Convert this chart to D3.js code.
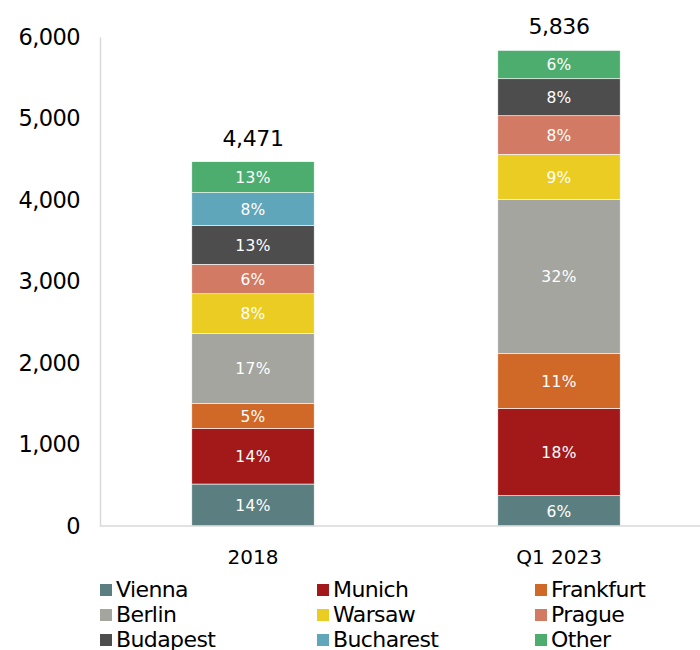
<!DOCTYPE html>
<html>
<head>
<meta charset="utf-8">
<script src="https://cdn.jsdelivr.net/npm/d3@7"></script>
<style>
  body { margin: 0; background: #fff; }
  svg text { font-family: "DejaVu Sans", Verdana, sans-serif; }
</style>
</head>
<body>
<div id="chart"></div>
<script>
var periods = ["2018", "Q1 2023"];
var cities = ["Vienna", "Munich", "Frankfurt", "Berlin", "Warsaw", "Prague", "Budapest", "Bucharest", "Other"];
var colors = ["#5b7f80", "#a31818", "#d06828", "#a5a5a0", "#ebcc22", "#d27a64", "#4d4d4d", "#5fa6ba", "#4dad6e"];
// segment values
var values2018 = [515, 684, 302, 863, 486, 361, 474, 405, 380];
var values2023 = [372, 1072, 670, 1895, 552, 473, 454, 0, 348];
// shares printed on the bars
var shares2018 = ["14%", "14%", "5%", "17%", "8%", "6%", "13%", "8%", "13%"];
var shares2023 = ["6%", "18%", "11%", "32%", "9%", "8%", "8%", "", "6%"];
var totals = [4471, 5836];
var yTicks = [0, 1000, 2000, 3000, 4000, 5000, 6000];

var width = 700, height = 650;
var margin = { top: 37, right: 0, bottom: 124, left: 100 };

var svg = d3.select("#chart").append("svg")
    .attr("width", width)
    .attr("height", height);

var xScale = d3.scaleBand()
    .domain(periods)
    .range([margin.left, 712])
    .paddingInner(0.6)
    .paddingOuter(0.3);

var yScale = d3.scaleLinear()
    .domain([0, 6000])
    .range([height - margin.bottom, margin.top]);

var rows = periods.map(function (p, i) {
    var row = { period: p };
    var vals = i == 0 ? values2018 : values2023;
    cities.forEach(function (c, j) { row[c] = vals[j]; });
    return row;
});
var shares = [shares2018, shares2023];

var stack = d3.stack().keys(cities)(rows);

// y axis
svg.append("g")
    .attr("transform", "translate(" + margin.left + ",0)")
    .call(d3.axisLeft(yScale).tickValues(yTicks).tickSize(0).tickPadding(20).tickFormat(d3.format(",")))
    .call(function (g) {
        g.select(".domain").attr("stroke", "#d9d9d9").attr("stroke-width", 1.5);
        g.selectAll("text").attr("font-size", 22.5).attr("fill", "#000")
            .attr("letter-spacing", "-0.6px")
            .style("font-family", "DejaVu Sans, Verdana, sans-serif");
    });

// bars
stack.forEach(function (layer, j) {
    svg.append("g")
        .selectAll("rect")
        .data(layer)
        .enter().append("rect")
        .attr("x", function (d) { return xScale(d.data.period); })
        .attr("y", function (d) { return yScale(d[1]); })
        .attr("width", xScale.bandwidth())
        .attr("height", function (d) { return yScale(d[0]) - yScale(d[1]); })
        .attr("fill", colors[j])
        .attr("stroke", "#fff")
        .attr("stroke-width", 0.6);

    svg.append("g")
        .selectAll("text")
        .data(layer)
        .enter().append("text")
        .attr("x", function (d) { return xScale(d.data.period) + xScale.bandwidth() / 2; })
        .attr("y", function (d) { return (yScale(d[0]) + yScale(d[1])) / 2; })
        .attr("dy", "0.38em")
        .attr("text-anchor", "middle")
        .attr("font-size", 15.5)
        .attr("letter-spacing", "0.3px")
        .attr("fill", "#fff")
        .text(function (d, i) { return shares[i][j]; });
});

// x axis
svg.append("g")
    .attr("transform", "translate(0," + yScale(0) + ")")
    .call(d3.axisBottom(xScale).tickSize(0).tickPadding(24))
    .call(function (g) {
        g.select(".domain").attr("stroke", "#d9d9d9").attr("stroke-width", 1.5)
            .attr("d", "M" + margin.left + ",0H" + width);
        g.selectAll("text").attr("font-size", 20).attr("fill", "#000")
            .style("font-family", "DejaVu Sans, Verdana, sans-serif");
    });

// totals
svg.selectAll(".total")
    .data(periods)
    .enter().append("text")
    .attr("class", "total")
    .attr("x", function (d) { return xScale(d) + xScale.bandwidth() / 2; })
    .attr("y", function (d, i) { return yScale(totals[i]) - 16; })
    .attr("text-anchor", "middle")
    .attr("font-size", 22)
    .attr("letter-spacing", "-0.4px")
    .attr("fill", "#000")
    .text(function (d, i) { return d3.format(",")(totals[i]); });

// legend
var legendX = [100, 317, 535];
var legendY = [597, 622, 647];
var legend = svg.selectAll(".legend")
    .data(cities)
    .enter().append("g")
    .attr("class", "legend")
    .attr("transform", function (d, i) {
        return "translate(" + legendX[i % 3] + "," + legendY[Math.floor(i / 3)] + ")";
    });
legend.append("rect")
    .attr("x", 0)
    .attr("y", -13)
    .attr("width", 12)
    .attr("height", 12)
    .attr("fill", function (d, i) { return colors[i]; });
legend.append("text")
    .attr("x", 16)
    .attr("y", 0)
    .attr("font-size", 22)
    .attr("letter-spacing", "-0.6px")
    .attr("fill", "#000")
    .text(function (d) { return d; });
</script>
</body>
</html>
